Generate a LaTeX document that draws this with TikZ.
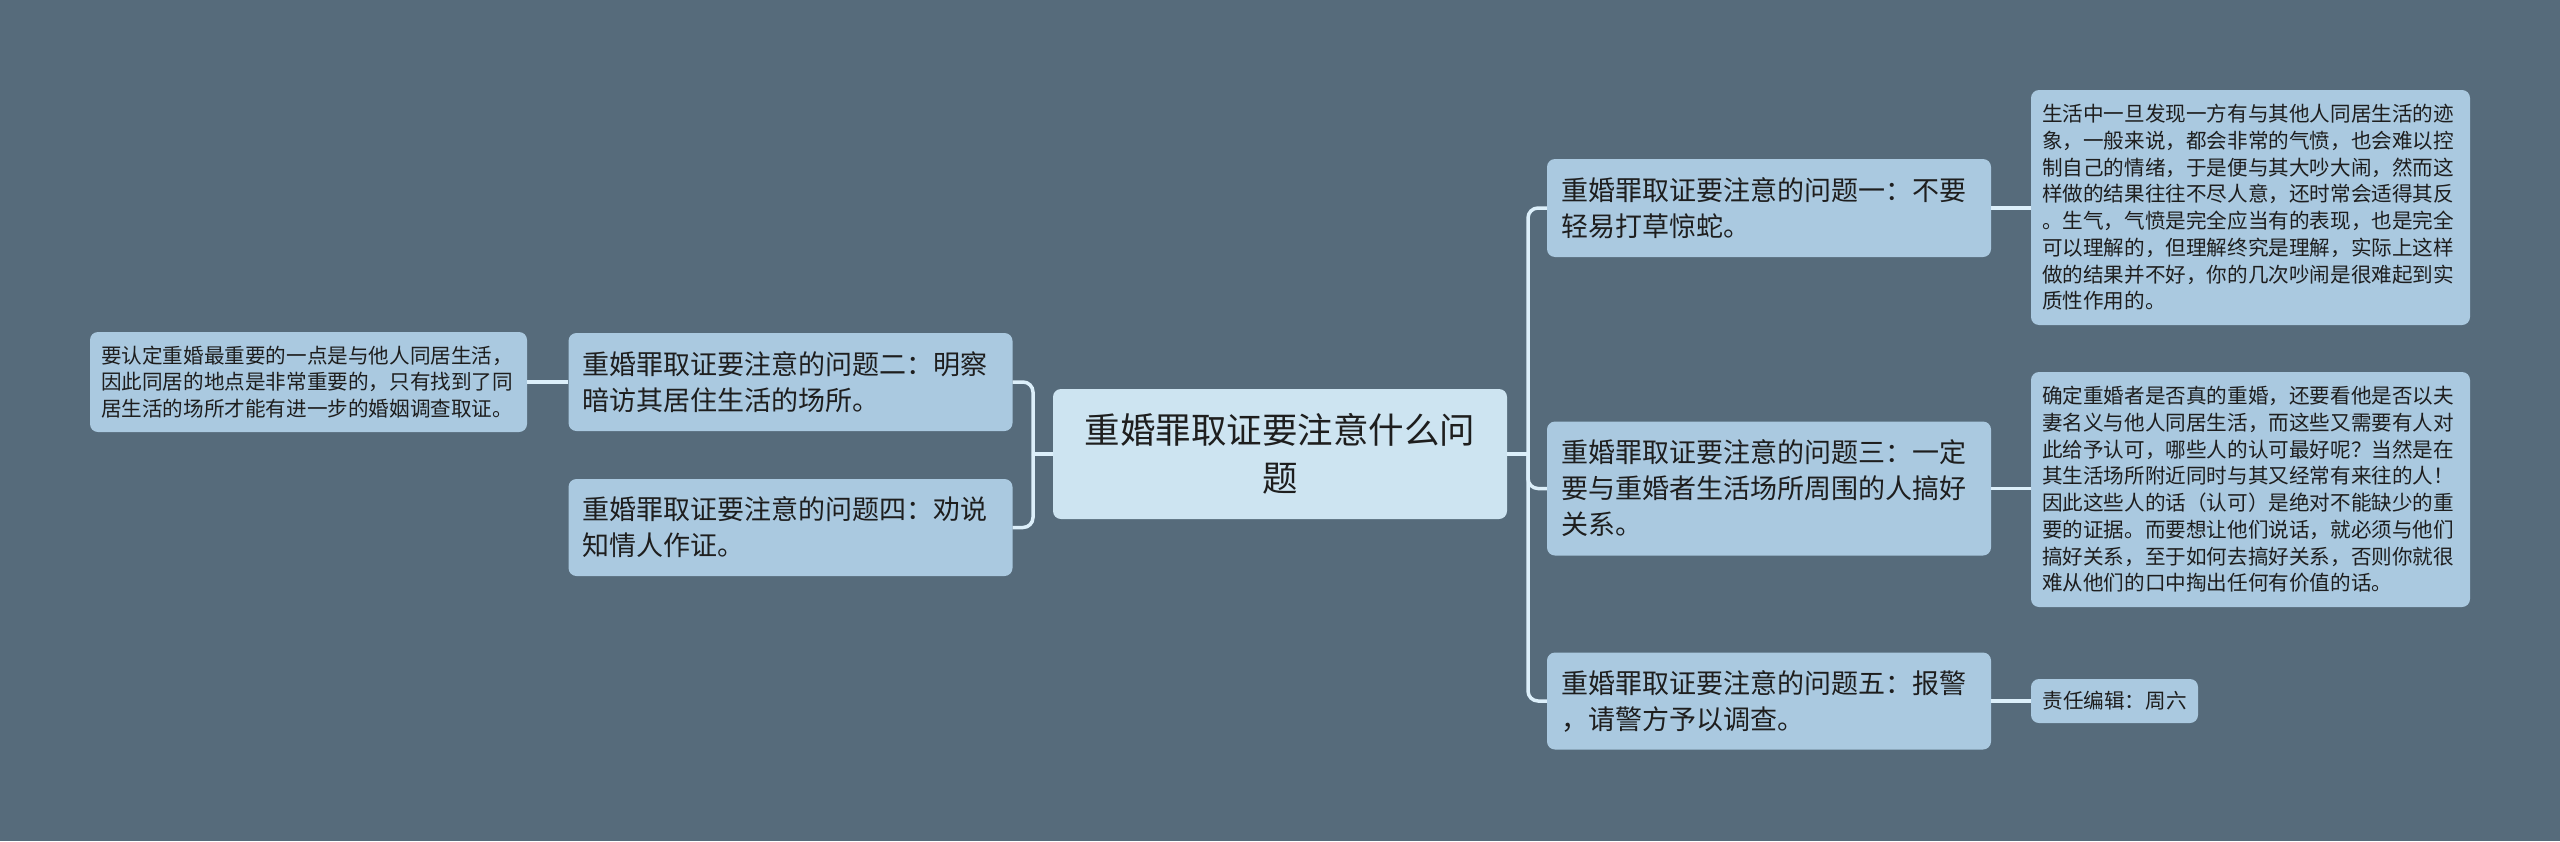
\documentclass[tikz,border=0pt]{standalone}
\usepackage{fontspec}
\setmainfont{Noto Sans CJK SC}
\definecolor{bgcol}{HTML}{566B7B}
\definecolor{nodefill}{HTML}{AAC9E0}
\definecolor{centerfill}{HTML}{CDE4F1}
\definecolor{linecol}{HTML}{DCEFFA}
\definecolor{txtcol}{HTML}{1E1E1E}
\tikzset{
  box/.style={fill=nodefill, rounded corners=8pt, text=txtcol, anchor=center, inner ysep=0pt},
  mainbox/.style={box, inner xsep=14pt, text width=416pt, align=left, font=\fontsize{27}{36}\selectfont},
  leafbox/.style={box, inner xsep=11pt, text width=417pt, align=left, font=\fontsize{20.6}{26.7}\selectfont},
  centerbox/.style={box, fill=centerfill, inner xsep=20pt, text width=414pt, align=center, font=\fontsize{35.5}{48}\selectfont},
  conn/.style={draw=linecol, line width=3.5pt, rounded corners=10pt},
}
\begin{document}
\begin{tikzpicture}[x=1pt,y=-1pt]
\fill[bgcol] (0,0) rectangle (2560,841);
\useasboundingbox (0,0) rectangle (2560,841);

\node[centerbox, minimum height=130pt] (c) at (1280,454) {重婚罪取证要注意什么问\\题};

\node[mainbox, minimum height=98pt] (n1) at (1769,208) {重婚罪取证要注意的问题一：不要\\轻易打草惊蛇。};
\node[mainbox, minimum height=134pt] (n3) at (1769,488.5) {重婚罪取证要注意的问题三：一定\\要与重婚者生活场所周围的人搞好\\关系。};
\node[mainbox, minimum height=97pt] (n5) at (1769,701) {重婚罪取证要注意的问题五：报警\\，请警方予以调查。};
\node[mainbox, minimum height=98pt] (n2) at (790.5,382) {重婚罪取证要注意的问题二：明察\\暗访其居住生活的场所。};
\node[mainbox, minimum height=97pt] (n4) at (790.5,527.5) {重婚罪取证要注意的问题四：劝说\\知情人作证。};

\node[leafbox, text width=415pt, minimum height=100pt] (l2) at (308.5,382) {要认定重婚最重要的一点是与他人同居生活，\\因此同居的地点是非常重要的，只有找到了同\\居生活的场所才能有进一步的婚姻调查取证。};
\node[leafbox, minimum height=235pt] (r1) at (2250.5,207.5) {生活中一旦发现一方有与其他人同居生活的迹\\象，一般来说，都会非常的气愤，也会难以控\\制自己的情绪，于是便与其大吵大闹，然而这\\样做的结果往往不尽人意，还时常会适得其反\\。生气，气愤是完全应当有的表现，也是完全\\可以理解的，但理解终究是理解，实际上这样\\做的结果并不好，你的几次吵闹是很难起到实\\质性作用的。};
\node[leafbox, minimum height=235pt] (r3) at (2250.5,489.5) {确定重婚者是否真的重婚，还要看他是否以夫\\妻名义与他人同居生活，而这些又需要有人对\\此给予认可，哪些人的认可最好呢？当然是在\\其生活场所附近同时与其又经常有来往的人！\\因此这些人的话（认可）是绝对不能缺少的重\\要的证据。而要想让他们说话，就必须与他们\\搞好关系，至于如何去搞好关系，否则你就很\\难从他们的口中掏出任何有价值的话。};
\node[box, inner xsep=0pt, minimum width=167pt, minimum height=44pt, font=\fontsize{20.6}{26.7}\selectfont] (r5) at (2114.5,701) {责任编辑：周六};

\coordinate (rj) at (1528,454);
\coordinate (lj) at (1033,454);
\draw[conn] (c.east) -- (rj);
\draw[conn] (rj) |- (n1.west);
\draw[conn] (rj) |- (n3.west);
\draw[conn] (rj) |- (n5.west);
\draw[conn] (c.west) -- (lj);
\draw[conn] (lj) |- (n2.east);
\draw[conn] (lj) |- (n4.east);
\draw[conn] (n2.west) -- (n2.west -| l2.east);
\draw[conn] (n1.east) -- (n1.east -| r1.west);
\draw[conn] (n3.east) -- (n3.east -| r3.west);
\draw[conn] (n5.east) -- (n5.east -| r5.west);
\end{tikzpicture}
\end{document}
